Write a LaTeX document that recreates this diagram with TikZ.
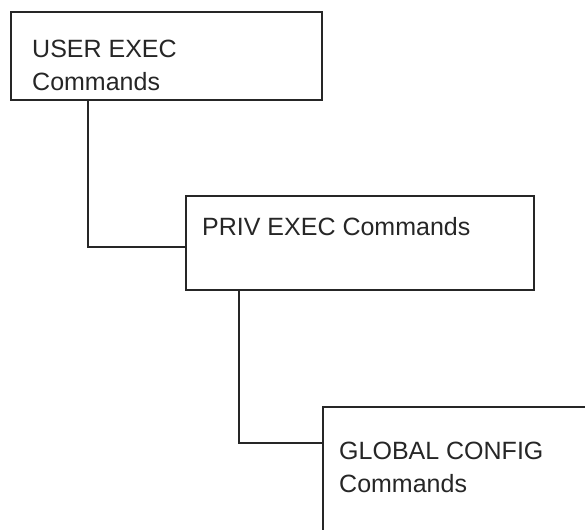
\documentclass[tikz,border=0pt]{standalone}
\usepackage{fontspec}
\setmainfont{Liberation Sans}
\begin{document}
\begin{tikzpicture}[x=1pt,y=-1pt,
  box/.style={draw=black!85, line width=1.6pt, rectangle, inner sep=0pt, anchor=north west},
  lbl/.style={anchor=north west, inner sep=0pt, align=left, font=\fontsize{25}{33}\selectfont, text=black!85},
  wire/.style={draw=black!85, line width=1.6pt}]
\useasboundingbox (0,0) rectangle (585,529);
\clip (0,0) rectangle (585,529);
\node[box, minimum width=311pt, minimum height=88pt] (b1) at (10,11) {};
\node[box, minimum width=348pt, minimum height=94pt] (b2) at (185,195) {};
\node[box, minimum width=300pt, minimum height=160pt] (b3) at (322,406) {};
\node[lbl] (t1) at (32,40) {USER EXEC\\Commands};
\node[lbl] (t2) at (202,217) {PRIV EXEC Commands};
\node[lbl] (t3) at (339,442) {GLOBAL CONFIG\\Commands};
\coordinate (k1) at (88,247);
\coordinate (k2) at (239,443);
\draw[wire] (b1.south -| k1) -- (k1) -- (b2.west |- k1);
\draw[wire] (b2.south -| k2) -- (k2) -- (b3.west |- k2);
\end{tikzpicture}
\end{document}
